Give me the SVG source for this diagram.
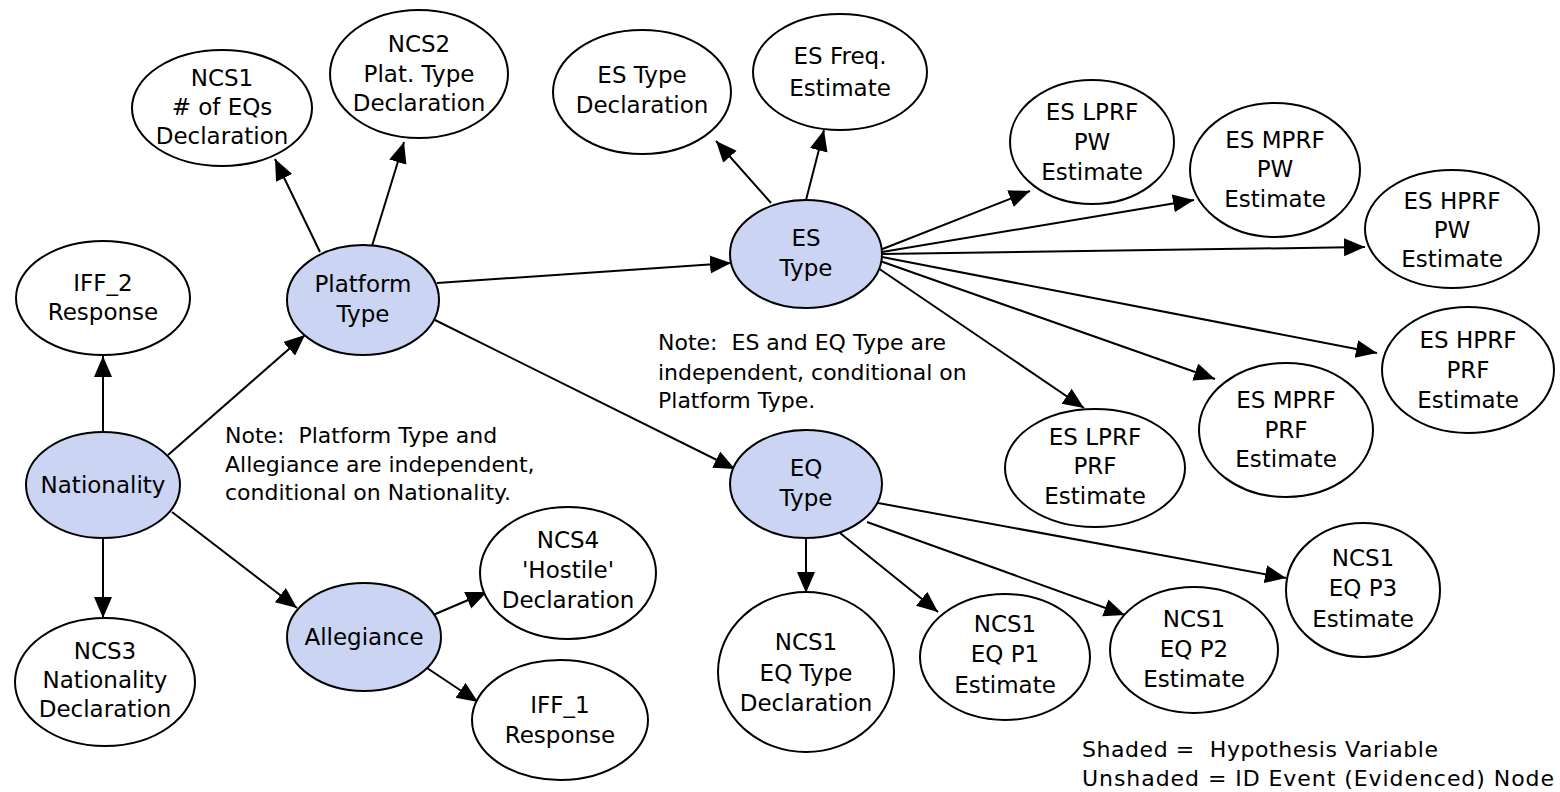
<svg xmlns="http://www.w3.org/2000/svg" width="1560" height="792" viewBox="0 0 1560 792">
  <style>
    .hyp { fill: #cbd5f3; stroke: #000; stroke-width: 2; }
    .evt { fill: #fff; stroke: #000; stroke-width: 2; }
    .lbl { font-family: "DejaVu Sans", "Liberation Sans", sans-serif; font-size: 23px; fill: #000; text-anchor: middle; }
    .note { font-family: "DejaVu Sans", "Liberation Sans", sans-serif; font-size: 22px; fill: #000; white-space: pre; }
    .edge { stroke: #000; stroke-width: 2; fill: none; marker-end: url(#arrow); }
  </style>
  <defs>
    <marker id="arrow" markerUnits="userSpaceOnUse" markerWidth="22" markerHeight="20" refX="21" refY="9" orient="auto">
      <path d="M0,0 L21,9 L0,18 z" fill="#000"/>
    </marker>
  </defs>
  <rect width="1560" height="792" fill="#fff"/>

  <!-- connectors -->
  <g id="connectors">
    <line class="edge" x1="103" y1="432" x2="103" y2="356"/>
    <line class="edge" x1="103" y1="538" x2="103" y2="618"/>
    <line class="edge" x1="168" y1="455" x2="305" y2="335"/>
    <line class="edge" x1="172" y1="512" x2="297" y2="608"/>
    <line class="edge" x1="320" y1="252" x2="275" y2="159"/>
    <line class="edge" x1="372" y1="246" x2="404" y2="142"/>
    <line class="edge" x1="437" y1="283" x2="731" y2="263"/>
    <line class="edge" x1="435" y1="320" x2="735" y2="469"/>
    <line class="edge" x1="433" y1="615" x2="487" y2="592"/>
    <line class="edge" x1="427" y1="668" x2="478" y2="702"/>
    <line class="edge" x1="771" y1="203" x2="716" y2="141"/>
    <line class="edge" x1="806" y1="200" x2="824" y2="130"/>
    <line class="edge" x1="880" y1="250" x2="1030" y2="191"/>
    <line class="edge" x1="882" y1="252" x2="1194" y2="200"/>
    <line class="edge" x1="882" y1="254" x2="1365" y2="247"/>
    <line class="edge" x1="882" y1="257" x2="1377" y2="353"/>
    <line class="edge" x1="880" y1="261" x2="1215" y2="379"/>
    <line class="edge" x1="875" y1="266" x2="1084" y2="408"/>
    <line class="edge" x1="806" y1="538" x2="806" y2="593"/>
    <line class="edge" x1="840" y1="533" x2="938" y2="612"/>
    <line class="edge" x1="867" y1="522" x2="1125" y2="615"/>
    <line class="edge" x1="878" y1="503" x2="1286" y2="578"/>
  </g>

  <!-- hypothesis variables -->
  <g id="nationality">
    <ellipse class="hyp" cx="103" cy="485" rx="77" ry="53"/>
    <text class="lbl" x="103" y="493">Nationality</text>
  </g>
  <g id="platform-type">
    <ellipse class="hyp" cx="363" cy="300" rx="76" ry="55"/>
    <text class="lbl" x="363" y="292">Platform</text>
    <text class="lbl" x="363" y="322">Type</text>
  </g>
  <g id="allegiance">
    <ellipse class="hyp" cx="364" cy="637" rx="77" ry="54"/>
    <text class="lbl" x="364" y="645">Allegiance</text>
  </g>
  <g id="es-type">
    <ellipse class="hyp" cx="806" cy="254" rx="76" ry="54"/>
    <text class="lbl" x="806" y="246">ES</text>
    <text class="lbl" x="806" y="276">Type</text>
  </g>
  <g id="eq-type">
    <ellipse class="hyp" cx="806" cy="484" rx="76" ry="54"/>
    <text class="lbl" x="806" y="476">EQ</text>
    <text class="lbl" x="806" y="506">Type</text>
  </g>

  <!-- evidence nodes -->
  <g id="iff2">
    <ellipse class="evt" cx="103" cy="298" rx="87" ry="57"/>
    <text class="lbl" x="103" y="291">IFF_2</text>
    <text class="lbl" x="103" y="320">Response</text>
  </g>
  <g id="ncs3">
    <ellipse class="evt" cx="105" cy="682" rx="90" ry="64"/>
    <text class="lbl" x="105" y="659">NCS3</text>
    <text class="lbl" x="105" y="688">Nationality</text>
    <text class="lbl" x="105" y="717">Declaration</text>
  </g>
  <g id="ncs1-eqs">
    <ellipse class="evt" cx="222" cy="108" rx="90" ry="58"/>
    <text class="lbl" x="222" y="86">NCS1</text>
    <text class="lbl" x="222" y="115"># of EQs</text>
    <text class="lbl" x="222" y="144">Declaration</text>
  </g>
  <g id="ncs2">
    <ellipse class="evt" cx="419" cy="74" rx="89" ry="64"/>
    <text class="lbl" x="419" y="52">NCS2</text>
    <text class="lbl" x="419" y="82">Plat. Type</text>
    <text class="lbl" x="419" y="111">Declaration</text>
  </g>
  <g id="ncs4">
    <ellipse class="evt" cx="568" cy="573" rx="88" ry="66"/>
    <text class="lbl" x="568" y="548">NCS4</text>
    <text class="lbl" x="568" y="578">'Hostile'</text>
    <text class="lbl" x="568" y="608">Declaration</text>
  </g>
  <g id="iff1">
    <ellipse class="evt" cx="560" cy="720" rx="88" ry="60"/>
    <text class="lbl" x="560" y="713">IFF_1</text>
    <text class="lbl" x="560" y="743">Response</text>
  </g>
  <g id="es-type-decl">
    <ellipse class="evt" cx="642" cy="92" rx="89" ry="62"/>
    <text class="lbl" x="642" y="83">ES Type</text>
    <text class="lbl" x="642" y="113">Declaration</text>
  </g>
  <g id="es-freq">
    <ellipse class="evt" cx="840" cy="72" rx="87" ry="58"/>
    <text class="lbl" x="840" y="64">ES Freq.</text>
    <text class="lbl" x="840" y="96">Estimate</text>
  </g>
  <g id="es-lprf-pw">
    <ellipse class="evt" cx="1092" cy="142" rx="82" ry="62"/>
    <text class="lbl" x="1092" y="120">ES LPRF</text>
    <text class="lbl" x="1092" y="150">PW</text>
    <text class="lbl" x="1092" y="180">Estimate</text>
  </g>
  <g id="es-mprf-pw">
    <ellipse class="evt" cx="1275" cy="170" rx="85" ry="67"/>
    <text class="lbl" x="1275" y="148">ES MPRF</text>
    <text class="lbl" x="1275" y="177">PW</text>
    <text class="lbl" x="1275" y="207">Estimate</text>
  </g>
  <g id="es-hprf-pw">
    <ellipse class="evt" cx="1452" cy="229" rx="87" ry="59"/>
    <text class="lbl" x="1452" y="209">ES HPRF</text>
    <text class="lbl" x="1452" y="238">PW</text>
    <text class="lbl" x="1452" y="267">Estimate</text>
  </g>
  <g id="es-hprf-prf">
    <ellipse class="evt" cx="1468" cy="370" rx="86" ry="63"/>
    <text class="lbl" x="1468" y="348">ES HPRF</text>
    <text class="lbl" x="1468" y="378">PRF</text>
    <text class="lbl" x="1468" y="408">Estimate</text>
  </g>
  <g id="es-mprf-prf">
    <ellipse class="evt" cx="1286" cy="430" rx="87" ry="67"/>
    <text class="lbl" x="1286" y="408">ES MPRF</text>
    <text class="lbl" x="1286" y="438">PRF</text>
    <text class="lbl" x="1286" y="467">Estimate</text>
  </g>
  <g id="es-lprf-prf">
    <ellipse class="evt" cx="1095" cy="468" rx="90" ry="59"/>
    <text class="lbl" x="1095" y="445">ES LPRF</text>
    <text class="lbl" x="1095" y="474">PRF</text>
    <text class="lbl" x="1095" y="504">Estimate</text>
  </g>
  <g id="ncs1-eq-type">
    <ellipse class="evt" cx="806" cy="672" rx="88" ry="80"/>
    <text class="lbl" x="806" y="650">NCS1</text>
    <text class="lbl" x="806" y="681">EQ Type</text>
    <text class="lbl" x="806" y="711">Declaration</text>
  </g>
  <g id="ncs1-eq-p1">
    <ellipse class="evt" cx="1005" cy="657" rx="85" ry="63"/>
    <text class="lbl" x="1005" y="632">NCS1</text>
    <text class="lbl" x="1005" y="662">EQ P1</text>
    <text class="lbl" x="1005" y="693">Estimate</text>
  </g>
  <g id="ncs1-eq-p2">
    <ellipse class="evt" cx="1194" cy="650" rx="84" ry="63"/>
    <text class="lbl" x="1194" y="627">NCS1</text>
    <text class="lbl" x="1194" y="657">EQ P2</text>
    <text class="lbl" x="1194" y="687">Estimate</text>
  </g>
  <g id="ncs1-eq-p3">
    <ellipse class="evt" cx="1363" cy="590" rx="77" ry="67"/>
    <text class="lbl" x="1363" y="566">NCS1</text>
    <text class="lbl" x="1363" y="596">EQ P3</text>
    <text class="lbl" x="1363" y="627">Estimate</text>
  </g>

  <!-- annotations -->
  <g id="note-platform-allegiance">
    <text class="note" x="225" y="443">Note:  Platform Type and</text>
    <text class="note" x="225" y="472">Allegiance are independent,</text>
    <text class="note" x="225" y="500">conditional on Nationality.</text>
  </g>
  <g id="note-es-eq">
    <text class="note" x="658" y="350">Note:  ES and EQ Type are</text>
    <text class="note" x="658" y="380">independent, conditional on</text>
    <text class="note" x="658" y="408">Platform Type.</text>
  </g>
  <g id="legend">
    <text class="note" x="1082" y="757" textLength="356" lengthAdjust="spacing">Shaded =  Hypothesis Variable</text>
    <text class="note" x="1082" y="786" textLength="472" lengthAdjust="spacing">Unshaded = ID Event (Evidenced) Node</text>
  </g>
</svg>
